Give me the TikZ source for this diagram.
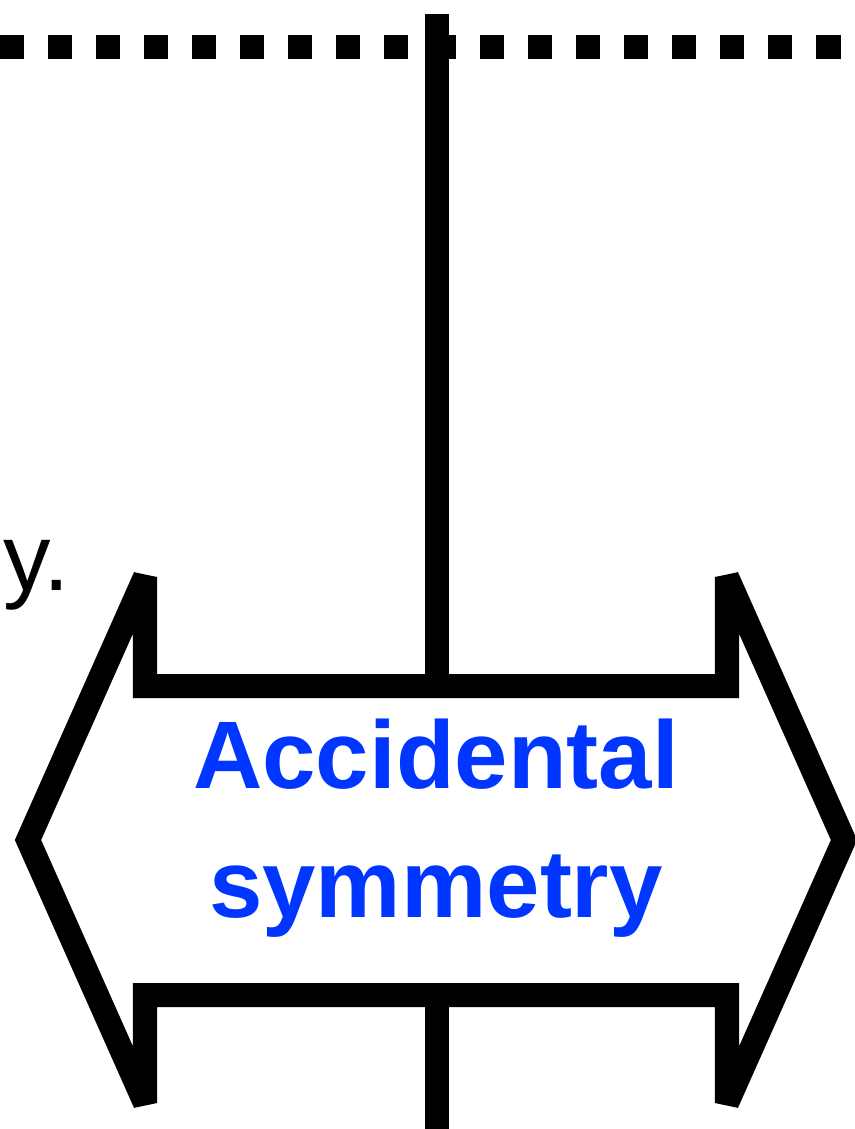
\documentclass[tikz,border=0pt]{standalone}
\usepackage{fontspec}
\setmainfont{Liberation Sans}
\usetikzlibrary{positioning}
\definecolor{labelblue}{RGB}{0,54,255}

\begin{document}
\begin{tikzpicture}[
			x=0.01cm,y=-0.01cm,
			thick line/.style={line width=0.24cm},
			dotline/.style={line width=0.24cm,dash pattern=on 0.24cm off 0.24cm},
			arrowbox/.style={line width=0.24cm,miter limit=2},
			label/.style={inner sep=0pt,align=center,text=labelblue,
				font=\fontsize{27.3}{36.6}\selectfont\bfseries},
			]
			
			% Frame
			\useasboundingbox (0,0) rectangle (855,1129);
			\clip (0,0) rectangle (855,1129);
			
			% Dotted level line
			\coordinate (levelL) at (0,47);
			\coordinate (levelR) at (860,47);
			\draw[dotline] (levelL) -- (levelR);
			
			% Double arrow
			\draw[arrowbox] (145,577) -- (145,686) -- (727,686) -- (727,577)
				-- (844,840) -- (727,1103) -- (727,995) -- (145,995)
				-- (145,1103) -- (28,840) -- cycle;
			\coordinate (arrowtop) at (437,686);
			\coordinate (arrowbot) at (437,995);
			
			% Label
			\node[label] (acc) at (436,828) {Accidental\\symmetry};
			
			% Stems
			\coordinate (stemtop) at (437,14);
			\coordinate (stembot) at (437,1140);
			\draw[thick line] (stemtop) -- (arrowtop);
			\draw[thick line] (arrowbot) -- (stembot);
			
			% Cut-off text
			\node[anchor=base east,inner sep=0pt,font=\fontsize{27}{30}\selectfont]
				(tail) at (71,590) {y.};
			
		\end{tikzpicture}
\end{document}
